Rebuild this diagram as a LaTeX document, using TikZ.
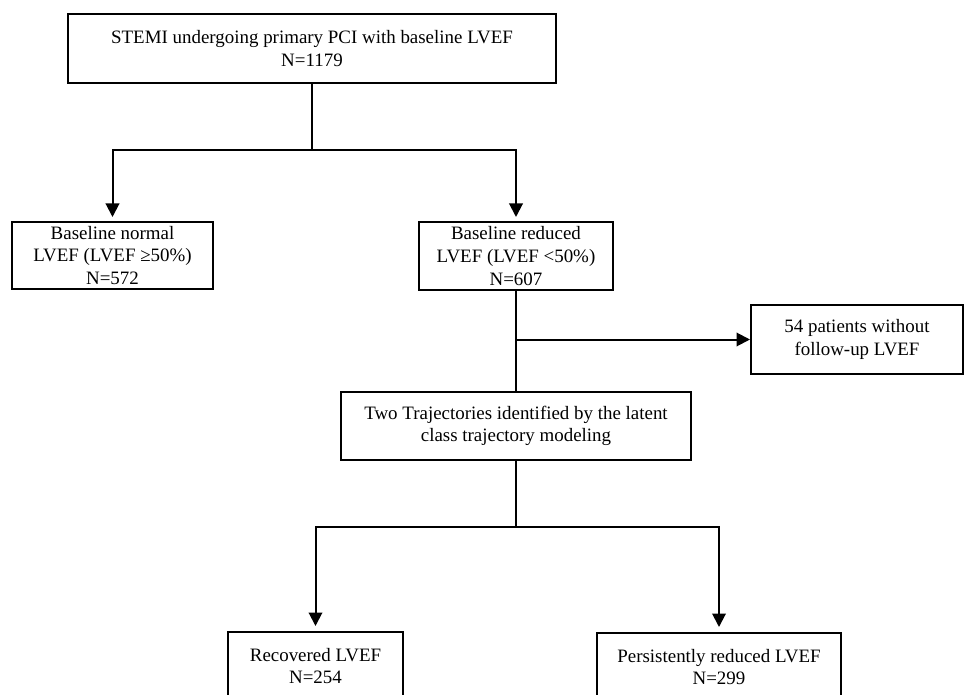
\documentclass[tikz,border=0pt]{standalone}
\usepackage{fontspec}
\setmainfont{Liberation Serif}
\usetikzlibrary{arrows.meta}
\begin{document}
\begin{tikzpicture}[x=1bp,y=-1bp,
  box/.style={draw, line width=2bp, align=center, inner sep=0pt,
    font=\fontsize{19}{22.7}\selectfont},
  conn/.style={line width=2bp},
  arr/.style={conn, -{Triangle[length=13.5bp,width=13.5bp]}}]
\useasboundingbox (0,0) rectangle (966,695);
\clip (0,0) rectangle (966,695);

\node[box, minimum width=488bp, minimum height=69bp] (top) at (312,48.5)
  {STEMI undergoing primary PCI with baseline LVEF\\N=1179};
\node[box, minimum width=201bp, minimum height=67bp] (normal) at (112.5,255.5)
  {Baseline normal\\LVEF (LVEF ≥50\%)\\N=572};
\node[box, minimum width=194bp, minimum height=68bp] (reduced) at (516,256)
  {Baseline reduced\\LVEF (LVEF <50\%)\\N=607};
\node[box, minimum width=212bp, minimum height=69bp] (miss) at (857,339.5)
  {54 patients without\\follow-up LVEF};
\node[box, minimum width=350bp, minimum height=68bp] (traj) at (516,426)
  {Two Trajectories identified by the latent\\class trajectory modeling};
\node[box, minimum width=175bp, minimum height=68bp] (rec) at (315.5,666)
  {Recovered LVEF\\N=254};
\node[box, minimum width=244bp, minimum height=68bp] (pers) at (719,667)
  {Persistently reduced LVEF\\N=299};

\coordinate (j1) at (312,150);
\coordinate (j2) at (516,339.5);
\coordinate (j3) at (516,527);

\draw[conn] (top.south) -- (j1);
\draw[arr, shorten >=4bp] (j1) -| (normal.north);
\draw[arr, shorten >=4bp] (j1) -| (reduced.north);
\draw[conn] (reduced.south) -- (traj.north);
\draw[arr] (j2) -- (miss.west);
\draw[conn] (traj.south) -- (j3);
\draw[arr, shorten >=5bp] (j3) -| (rec.north);
\draw[arr, shorten >=5bp] (j3) -| (pers.north);
\end{tikzpicture}
\end{document}
